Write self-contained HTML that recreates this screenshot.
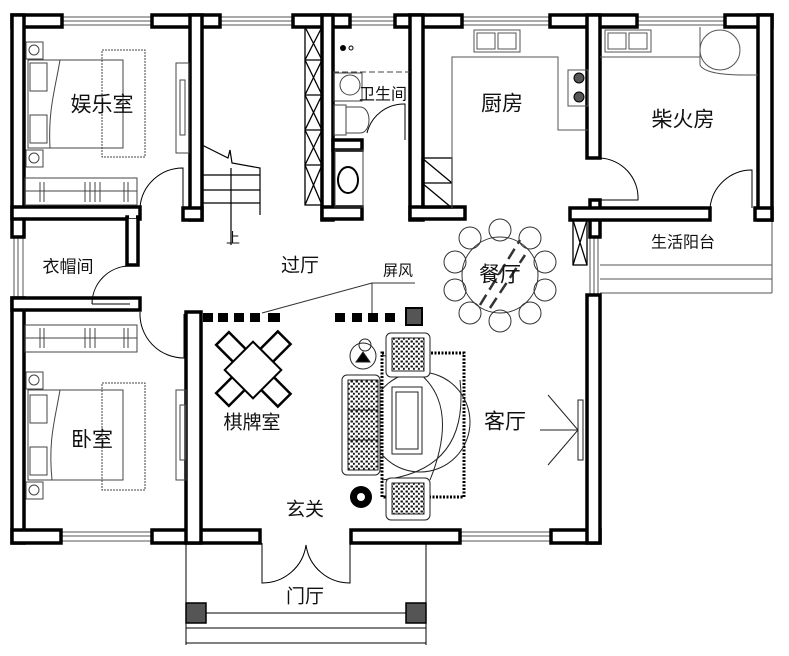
<!DOCTYPE html>
<html><head><meta charset="utf-8"><style>
html,body{margin:0;padding:0;background:#fff;}
svg{display:block;}
text{font-family:"Liberation Sans","Noto Sans CJK SC",sans-serif;fill:#111;text-anchor:middle;dominant-baseline:central;}
</style></head><body>
<svg width="789" height="656" viewBox="0 0 789 656" xmlns="http://www.w3.org/2000/svg">
<defs>
<pattern id="dots" width="5" height="5" patternUnits="userSpaceOnUse">
<rect x="0.5" y="0.5" width="2.4" height="2" fill="#111"/><rect x="3" y="2.8" width="1.8" height="2" fill="#111"/>
</pattern>
</defs>
<rect width="789" height="656" fill="#fff"/>

<g stroke="#555" stroke-width="1" fill="none">
<path d="M62 17H152M62 21H152M62 25H152"/>
<path d="M220 17H293M220 21H293M220 25H293"/>
<path d="M350 17H395M350 21H395M350 25H395"/>
<path d="M462 17H550M462 21H550M462 25H550"/>
<path d="M637 17H725M637 21H725M637 25H725"/>
<path d="M14 237V298M18 237V298M23 237V298"/>
<path d="M61 532V541M61 532H152M61 536H152M61 541H152"/>
<path d="M460 532H551M460 536H551M460 541H551"/>
<path d="M590 237V298M594 237V298M598 237V298"/>
<path d="M600 265H772M600 279H772M600 293H772M772 220V293"/>
</g>

<g fill="#fff" stroke="#000" stroke-width="3.5">
<rect x="12" y="15" width="50" height="12"/>
<rect x="152" y="15" width="68" height="12"/>
<rect x="293" y="15" width="57" height="12"/>
<rect x="395" y="15" width="67" height="12"/>
<rect x="550" y="15" width="87" height="12"/>
<rect x="725" y="15" width="47" height="12"/>
<rect x="12" y="15" width="12" height="222"/>
<rect x="12" y="298" width="12" height="245"/>
<rect x="758" y="15" width="14" height="205"/>
<rect x="12" y="530" width="49" height="13"/>
<rect x="152" y="530" width="108" height="13"/>
<rect x="351" y="530" width="109" height="13"/>
<rect x="551" y="530" width="49" height="13"/>
<rect x="587" y="295" width="13" height="248"/>
<rect x="587" y="15" width="13" height="143"/>
<rect x="590" y="200" width="10" height="37"/>
<rect x="570" y="208" width="140" height="12"/>
<rect x="755" y="208" width="17" height="12"/>
<rect x="410" y="15" width="13" height="205"/>
<rect x="410" y="207" width="55" height="12"/>
<rect x="322" y="15" width="11" height="205"/>
<rect x="322" y="207" width="40" height="12"/>
<rect x="333" y="140" width="29" height="10"/>
<rect x="190" y="15" width="12" height="205"/>
<rect x="183" y="208" width="19" height="12"/>
<rect x="12" y="207" width="128" height="12"/>
<rect x="127" y="217" width="11" height="48"/>
<rect x="12" y="298" width="128" height="12"/>
<rect x="186" y="312" width="15" height="231"/>
</g>
<g fill="#fff">
<rect x="14" y="17" width="8" height="8"/><rect x="192" y="17" width="8" height="8"/><rect x="324" y="17" width="7" height="8"/>
<rect x="412" y="17" width="9" height="8"/><rect x="589" y="17" width="9" height="8"/><rect x="760" y="17" width="10" height="8"/>
<rect x="14" y="209" width="9" height="8"/><rect x="192" y="210" width="8" height="8"/><rect x="324" y="209" width="7" height="8"/>
<rect x="412" y="209" width="9" height="8"/><rect x="760" y="210" width="10" height="8"/><rect x="129" y="209" width="7" height="9"/>
<rect x="14" y="300" width="9" height="8"/><rect x="14" y="532" width="9" height="9"/><rect x="188" y="532" width="11" height="9"/>
<rect x="589" y="532" width="9" height="9"/><rect x="589" y="210" width="9" height="8"/><rect x="324" y="142" width="7" height="6"/>
</g>

<g fill="none" stroke="#000" stroke-width="1.3">
<rect x="305" y="27" width="17" height="178"/>
<path d="M305 27L322 60M322 27L305 60M305 60L322 95M322 60L305 95M305 95L322 130M322 95L305 130M305 130L322 165M322 130L305 165M305 165L322 205M322 165L305 205"/>
<path d="M305 60H322M305 95H322M305 130H322M305 165H322"/>
<rect x="573" y="220" width="14" height="45"/>
<path d="M573 220L587 265M587 220L573 265"/>
<rect x="422" y="158" width="30" height="50"/><path d="M422 158L452 183M422 183L452 208M422 183H452"/>
</g>

<g fill="none" stroke="#000" stroke-width="1">
<path d="M140 207A43 43 0 0 1 183 168V207"/>
<path d="M92 304A38 38 0 0 1 130 266M92 304H130"/>
<path d="M140 312A44 44 0 0 0 184 358V314"/>
<path d="M600 158A40 40 0 0 1 638 200H600"/>
<path d="M710 208A42 42 0 0 1 752 170V208"/>
<path d="M367 133A38 38 0 0 1 405 104V140"/>
<path d="M262 543V583A44 44 0 0 0 306 545M350 543V583A44 44 0 0 1 306 545"/>
<path d="M186 543V645M426 543V645M186 628H426M186 643H426M206 613H406"/>
</g>
<g fill="#555" stroke="#000" stroke-width="1.5">
<rect x="186" y="603" width="20" height="20"/><rect x="406" y="603" width="20" height="20"/>
</g>

<g fill="none" stroke="#000" stroke-width="1.2">
<path d="M202 145L228 158L230 150L232 163L260 168V215"/>
<path d="M202 175H260M202 190H260M202 203H260"/>
<path d="M231 168V245"/>
</g>

<g fill="none" stroke="#444" stroke-width="1">
<rect x="28" y="60" width="95" height="88"/><rect x="30" y="63" width="17" height="28"/><rect x="30" y="115" width="17" height="28"/>
<path d="M60 60C55 90 48 110 50 148"/>
<rect x="102" y="50" width="43" height="107" stroke-dasharray="2 1"/>
<rect x="26" y="42" width="17" height="17"/><circle cx="34" cy="50" r="5"/>
<rect x="26" y="150" width="17" height="17"/><circle cx="34" cy="158" r="5"/>
<rect x="176" y="63" width="13" height="90"/><rect x="180" y="80" width="5" height="55"/>
<rect x="25" y="178" width="112" height="27"/><path d="M25 191H137M40 182V202M44 182V202M85 182V202M90 182V202M95 182V202M100 182V202M124 182V202M128 182V202"/>
<rect x="28" y="390" width="95" height="90"/><rect x="30" y="395" width="17" height="28"/><rect x="30" y="447" width="17" height="28"/>
<path d="M60 390C55 420 48 440 52 480"/>
<rect x="102" y="383" width="43" height="107" stroke-dasharray="2 1"/>
<rect x="26" y="372" width="17" height="17"/><circle cx="34" cy="380" r="5"/>
<rect x="26" y="482" width="17" height="17"/><circle cx="34" cy="490" r="5"/>
<rect x="176" y="390" width="10" height="90"/><rect x="180" y="405" width="5" height="55"/>
<rect x="25" y="325" width="112" height="27"/><path d="M25 338H137M40 328V348M44 328V348M85 328V348M90 328V348M95 328V348M124 328V348M128 328V348"/>
</g>

<g fill="none" stroke="#444" stroke-width="1">
<path d="M333 72H410" stroke-dasharray="6 3"/>
<circle cx="350" cy="85" r="10"/><rect x="334" y="73" width="28" height="28"/>
<rect x="334" y="105" width="12" height="30"/><path d="M346 107H360C372 107 372 133 360 133H346"/>
<rect x="335" y="150" width="28" height="57"/><ellipse cx="348" cy="180" rx="10" ry="13" stroke="#000" stroke-width="2"/>
</g>
<circle cx="343" cy="48" r="3" fill="#000"/><circle cx="351" cy="48" r="2" fill="none" stroke="#000"/>

<g fill="none" stroke="#555" stroke-width="1">
<path d="M452 208V57H558V130H588"/>
<rect x="474" y="30" width="46" height="22"/><rect x="477" y="33" width="18" height="16"/><rect x="498" y="33" width="18" height="16"/>
<rect x="605" y="30" width="46" height="22"/><rect x="608" y="33" width="18" height="16"/><rect x="629" y="33" width="18" height="16"/>
<rect x="568" y="70" width="20" height="36"/>
<path d="M600 57H700"/><circle cx="720" cy="50" r="20"/><path d="M700 27V65Q705 75 745 75H758"/>
</g>
<circle cx="579" cy="78" r="5" fill="#555" stroke="#000"/><circle cx="579" cy="97" r="5" fill="#555" stroke="#000"/>

<g fill="none" stroke="#333" stroke-width="1">
<circle cx="500" cy="275" r="38"/>
<circle cx="500" cy="230" r="11"/><circle cx="470" cy="238" r="11"/><circle cx="530" cy="238" r="11"/>
<circle cx="455" cy="262" r="11"/><circle cx="545" cy="262" r="11"/>
<circle cx="455" cy="290" r="11"/><circle cx="545" cy="290" r="11"/>
<circle cx="470" cy="313" r="11"/><circle cx="530" cy="313" r="11"/><circle cx="500" cy="321" r="11"/>
<path d="M480 305L520 240M490 308L525 255" stroke-width="2.5" stroke-dasharray="12 6"/>
</g>

<g fill="#000">
<rect x="203" y="313" width="10" height="9"/><rect x="218" y="313" width="10" height="9"/><rect x="234" y="313" width="10" height="9"/><rect x="250" y="313" width="10" height="9"/><rect x="268" y="313" width="12" height="9"/>
<rect x="335" y="313" width="10" height="9"/><rect x="352" y="313" width="10" height="9"/><rect x="368" y="313" width="10" height="9"/><rect x="385" y="313" width="10" height="9"/>
</g>
<rect x="406" y="308" width="16" height="17" fill="#555" stroke="#000" stroke-width="2"/>
<path d="M262 313L372 283H415M372 283V313" fill="none" stroke="#333" stroke-width="1"/>

<g fill="#fff" stroke="#000" stroke-width="2.5">
<rect x="219" y="338" width="25" height="18" transform="rotate(45 231 347)"/>
<rect x="263" y="338" width="25" height="18" transform="rotate(-45 275 347)"/>
<rect x="219" y="382" width="25" height="18" transform="rotate(-45 231 391)"/>
<rect x="263" y="382" width="25" height="18" transform="rotate(45 275 391)"/>
<rect x="233" y="350" width="40" height="40" transform="rotate(45 253 370)" stroke-width="2"/>
</g>

<g fill="none" stroke="#222" stroke-width="1">
<rect x="382" y="353" width="82" height="144" stroke="#000" stroke-width="3" stroke-dasharray="2 1.5"/>
<path d="M382 355Q470 380 430 480M382 480Q470 470 460 380"/>
<circle cx="420" cy="422" r="50"/>
<rect x="342" y="375" width="38" height="100" fill="#fff" rx="5"/>
<rect x="348" y="380" width="30" height="30" fill="url(#dots)"/><rect x="348" y="410" width="30" height="30" fill="url(#dots)"/><rect x="348" y="440" width="30" height="30" fill="url(#dots)"/>
<rect x="386" y="333" width="44" height="44" fill="#fff" rx="5"/><rect x="392" y="338" width="32" height="33" fill="url(#dots)"/>
<rect x="386" y="478" width="44" height="42" fill="#fff" rx="5"/><rect x="392" y="483" width="32" height="31" fill="url(#dots)"/>
<rect x="392" y="387" width="30" height="67" fill="#fff"/><rect x="396" y="392" width="22" height="57"/>
<circle cx="363" cy="356" r="13" fill="#fff"/><path d="M356 362L363 352L370 362Z" fill="#000"/>
<circle cx="365" cy="345" r="6"/>
<path d="M540 430H578M548 395L578 430L548 465"/>
<rect x="578" y="400" width="5" height="60"/>
</g>
<circle cx="361" cy="497" r="11" fill="#000"/><circle cx="361" cy="497" r="4" fill="#fff"/>

<text x="102" y="105" font-size="21">娱乐室</text>
<text x="383" y="95" font-size="16">卫生间</text>
<text x="502" y="104" font-size="21">厨房</text>
<text x="683" y="120" font-size="21">柴火房</text>
<text x="68" y="267" font-size="17">衣帽间</text>
<text x="300" y="266" font-size="19">过厅</text>
<text x="233" y="238" font-size="14">上</text>
<text x="398" y="271" font-size="15">屏风</text>
<text x="500" y="275" font-size="21">餐厅</text>
<text x="683" y="243" font-size="16">生活阳台</text>
<text x="252" y="423" font-size="19">棋牌室</text>
<text x="505" y="422" font-size="21">客厅</text>
<text x="92" y="440" font-size="21">卧室</text>
<text x="305" y="510" font-size="19">玄关</text>
<text x="305" y="597" font-size="19">门厅</text>
</svg>
</body></html>
